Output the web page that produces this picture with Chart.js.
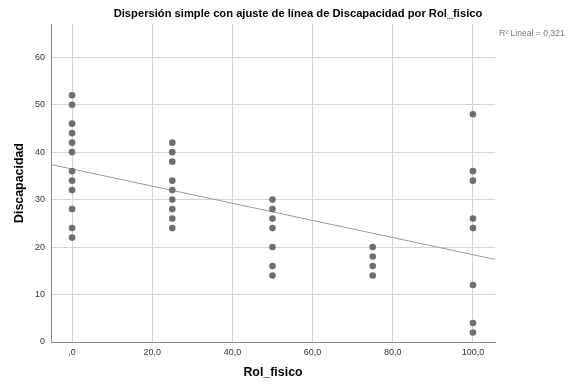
<!DOCTYPE html>
<html>
<head>
<meta charset="utf-8">
<script src="https://cdn.jsdelivr.net/npm/chart.js@4"></script>
<style>
  html, body { margin: 0; padding: 0; background: #fff; }
  #wrap { width: 568px; height: 386px; }
</style>
</head>
<body>
<div id="wrap"><canvas id="chart" width="568" height="386"></canvas></div>
<script>
// Rol_fisico groups and the Discapacidad values read at each one
const rolFisico = [0, 25, 50, 75, 100];
const discapacidad = [
    [52, 50, 46, 44, 42, 40, 36, 34, 32, 28, 24, 22],
    [42, 40, 38, 34, 32, 30, 28, 26, 24],
    [30, 28, 26, 24, 20, 16, 14],
    [20, 18, 16, 14],
    [48, 36, 34, 26, 24, 12, 4, 2]
];
// fit line, read at the two edges of the plot
const fitX = [-5.25, 105.5];
const fitY = [37.4, 17.4];
const xTicks = [0, 20, 40, 60, 80, 100];
const xTickLabels = [",0", "20,0", "40,0", "60,0", "80,0", "100,0"];
const yTicks = [0, 10, 20, 30, 40, 50, 60];
const r2Text = "R\u00b2 Lineal = 0,321";
const titleText = "Dispersión simple con ajuste de línea de Discapacidad por Rol_fisico";

const points = [];
rolFisico.forEach((x, i) => {
    discapacidad[i].forEach(y => points.push({ x: x, y: y }));
});

const FONT = "'Liberation Sans', Arial, sans-serif";

// title and R2 note
const textPlugin = {
    id: "texts",
    afterDraw(chart) {
        const ctx = chart.ctx;
        ctx.save();
        ctx.fillStyle = "#000";
        ctx.font = "bold 11.2px " + FONT;
        ctx.textAlign = "center";
        ctx.textBaseline = "middle";
        ctx.fillText(titleText, 298, 14);
        ctx.fillStyle = "#777";
        ctx.font = "8.6px " + FONT;
        ctx.textAlign = "left";
        ctx.fillText(r2Text, chart.chartArea.right + 4, 34);
        ctx.restore();
    }
};

new Chart(document.getElementById("chart"), {
    type: "scatter",
    data: {
        datasets: [{
            label: "Discapacidad",
            data: points,
            backgroundColor: "#6e6e6e",
            borderWidth: 0,
            pointRadius: 3.3,
            pointHoverRadius: 3.3
        }, {
            type: "line",
            label: "Ajuste",
            data: fitX.map((x, i) => ({ x: x, y: fitY[i] })),
            borderColor: "#9a9a9a",
            borderWidth: 1,
            pointRadius: 0,
            fill: false
        }]
    },
    options: {
        responsive: false,
        animation: false,
        layout: { padding: { top: 24, right: 73, left: 0, bottom: 0 } },
        plugins: {
            legend: { display: false },
            tooltip: { enabled: false }
        },
        scales: {
            x: {
                type: "linear",
                min: fitX[0],
                max: fitX[1],
                afterBuildTicks: s => { s.ticks = xTicks.map(v => ({ value: v })); },
                afterFit: s => { s.height = 44; },
                ticks: {
                    callback: v => xTickLabels[xTicks.indexOf(v)],
                    font: { family: FONT, size: 9 },
                    color: "#333",
                    padding: 5,
                    maxRotation: 0
                },
                grid: { color: "#d4d4d4", drawTicks: false },
                border: { color: "#888", width: 1 },
                title: {
                    display: true,
                    text: "Rol_fisico",
                    font: { family: FONT, size: 12.4, weight: "bold" },
                    color: "#000",
                    padding: { bottom: 6 }
                }
            },
            y: {
                min: 0,
                max: 67,
                afterBuildTicks: s => { s.ticks = yTicks.map(v => ({ value: v })); },
                afterFit: s => { s.width = 51; },
                ticks: {
                    font: { family: FONT, size: 9 },
                    color: "#333",
                    padding: 6
                },
                grid: { color: "#d4d4d4", drawTicks: false },
                border: { color: "#888", width: 1 },
                title: {
                    display: true,
                    text: "Discapacidad",
                    font: { family: FONT, size: 12.4, weight: "bold" },
                    color: "#000",
                    padding: { top: 12 }
                }
            }
        }
    },
    plugins: [textPlugin]
});
</script>
</body>
</html>
